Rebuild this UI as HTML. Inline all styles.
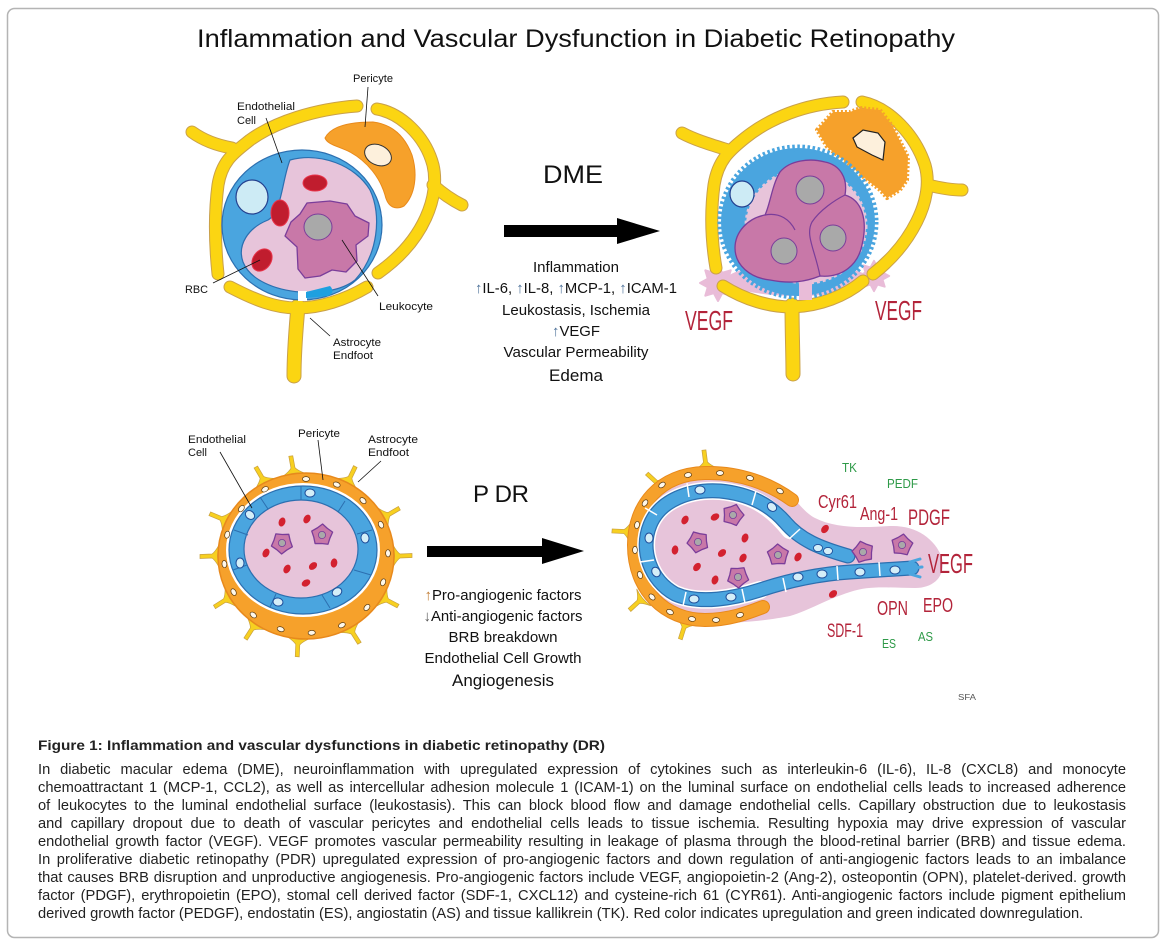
<!DOCTYPE html>
<html><head><meta charset="utf-8"><style>
html,body{margin:0;padding:0;background:#fff;}
svg{display:block;}
text{font-family:"Liberation Sans",Arial,sans-serif;}
#cap{position:absolute;left:38px;top:761px;width:1088px;font-family:"Liberation Sans",Arial,sans-serif;font-size:14.67px;line-height:18px;color:#222;}
#cap div{white-space:nowrap;text-align:justify;text-align-last:justify;height:18px;}
#cap div.last{text-align-last:left;}
</style></head><body>
<svg width="1164" height="943" viewBox="0 0 1164 943" xmlns="http://www.w3.org/2000/svg">
<defs>
<g id="sp"><path d="M-11,1 Q-4,-3 -2,-6 L-2.5,-18 L1.5,-18 L2,-6 Q4,-3 11,1 Q0,-2 -11,1 Z" fill="#F7D020" stroke="#C9A040" stroke-width="0.7"/></g>
<polygon id="star" points="18,0 10.2,4.2 12.7,12.7 4.2,10.2 0,18 -4.2,10.2 -12.7,12.7 -10.2,4.2 -18,0 -10.2,-4.2 -12.7,-12.7 -4.2,-10.2 0,-18 4.2,-10.2 12.7,-12.7 10.2,-4.2" fill="#E9BCD8" stroke="#E9BCD8" stroke-width="2" stroke-linejoin="round"/>
<g id="leu"><polygon points="11,0 6.88,5 3.4,10.46 -2.63,8.08 -8.9,6.47 -8.5,0 -8.9,-6.47 -2.63,-8.08 3.4,-10.46 6.88,-5" fill="#C878A8" stroke="#7A3D9A" stroke-width="1.3" stroke-linejoin="round"/><circle cx="0" cy="0" r="3.6" fill="#A9A9A9" stroke="#7A3D9A" stroke-width="0.8"/></g>
<ellipse id="rbc" cx="0" cy="0" rx="3.3" ry="4.6" fill="#D3212F"/>
<ellipse id="onuc" cx="0" cy="0" rx="3.6" ry="2.4" fill="#FFF8EA" stroke="#5a3a10" stroke-width="0.7"/>
<ellipse id="bnuc" cx="0" cy="0" rx="5" ry="4" fill="#D4EEF8" stroke="#1F4E9A" stroke-width="1"/>
</defs>

<!-- frame -->
<rect x="7.5" y="8.5" width="1151" height="929" rx="7" fill="#fff" stroke="#b4b4b4" stroke-width="1.5"/>

<!-- title -->
<text x="197" y="47" font-size="25" textLength="758" lengthAdjust="spacingAndGlyphs" fill="#111">Inflammation and Vascular Dysfunction in Diabetic Retinopathy</text>

<!-- ================= TOP LEFT CELL ================= -->
<g fill="none" stroke-linecap="round" stroke-linejoin="round">
 <g stroke="#C9A04A" stroke-width="13">
  <path d="M357,106 C315,109 275,122 250,140 C235,152 222,160 218,185 C214,215 215,245 218,274"/>
  <path d="M232,148 C215,145 203,140 192,132"/>
  <path d="M377,109 C400,113 425,135 433,165 C440,195 425,240 378,273"/>
  <path d="M433,185 C442,193 452,200 462,205"/>
  <path d="M230,287 C255,300 275,308 297,308 C320,308 345,300 367,287"/>
  <path d="M298,306 C296,330 294,350 294,376" stroke-width="15"/>
 </g>
 <g stroke="#FBD512" stroke-width="11">
  <path d="M357,106 C315,109 275,122 250,140 C235,152 222,160 218,185 C214,215 215,245 218,274"/>
  <path d="M232,148 C215,145 203,140 192,132"/>
  <path d="M377,109 C400,113 425,135 433,165 C440,195 425,240 378,273"/>
  <path d="M433,185 C442,193 452,200 462,205"/>
  <path d="M230,287 C255,300 275,308 297,308 C320,308 345,300 367,287"/>
  <path d="M298,306 C296,330 294,350 294,376" stroke-width="13"/>
 </g>
</g>
<!-- pericyte -->
<path d="M325,138 C330,128 345,122 373,122 C390,124 404,134 412,155 C418,175 415,195 404,206 C396,210 388,208 385,195 C380,178 368,162 350,152 C338,146 328,145 325,138 Z" fill="#F6A12B" stroke="#E88A1C" stroke-width="1"/>
<ellipse cx="378" cy="155" rx="14" ry="10" transform="rotate(25 378 155)" fill="#FDF0DC" stroke="#333" stroke-width="1"/>
<!-- endothelium -->
<ellipse cx="302" cy="225" rx="80" ry="75" fill="#4AA5DF" stroke="#2C6FB0" stroke-width="1.2"/>
<path d="M290,160 C320,152 355,165 370,190 C382,215 378,255 355,280 C340,292 315,293 300,292 C275,290 250,280 243,262 C237,245 248,228 268,220 C282,212 282,180 290,160 Z" fill="#E7C4DA" stroke="#2C6FB0" stroke-width="1.2"/>
<rect x="298" y="291" width="9" height="10" fill="#fff"/>
<path d="M306,292 L330,286 C334,290 333,294 328,296 L306,298 Z" fill="#1EA0E0"/>
<ellipse cx="252" cy="197" rx="16" ry="17" fill="#CDEBF5" stroke="#24408F" stroke-width="1.2"/>
<ellipse cx="315" cy="183" rx="12" ry="8" fill="#C01D2E" stroke="#E8334A" stroke-width="1"/>
<ellipse cx="280" cy="213" rx="9" ry="13" fill="#C01D2E" stroke="#E8334A" stroke-width="1"/>
<ellipse cx="262" cy="260" rx="9" ry="12" transform="rotate(35 262 260)" fill="#C01D2E" stroke="#E8334A" stroke-width="1"/>
<polygon points="307,203 330,201 347,204 355,216 369,223 368,236 356,245 357,261 346,272 332,270 320,276 305,278 298,269 297,247 285,236 291,222 300,214" fill="#C878A8" stroke="#7A3D9A" stroke-width="1.3" stroke-linejoin="round"/>
<ellipse cx="318" cy="227" rx="14" ry="13" fill="#A9A9A9" stroke="#7A3D9A" stroke-width="1"/>
<!-- labels -->
<g stroke="#111" stroke-width="0.8">
 <line x1="368" y1="87" x2="365" y2="127"/>
 <line x1="266" y1="118" x2="282" y2="163"/>
 <line x1="213" y1="283" x2="260" y2="260"/>
 <line x1="378" y1="296" x2="342" y2="240"/>
 <line x1="330" y1="336" x2="310" y2="318"/>
</g>
<g font-size="11" fill="#111">
 <text x="353" y="82" textLength="40" lengthAdjust="spacingAndGlyphs">Pericyte</text>
 <text x="237" y="110" textLength="58" lengthAdjust="spacingAndGlyphs">Endothelial</text>
 <text x="237" y="124">Cell</text>
 <text x="185" y="293" textLength="23" lengthAdjust="spacingAndGlyphs">RBC</text>
 <text x="379" y="310" textLength="54" lengthAdjust="spacingAndGlyphs">Leukocyte</text>
 <text x="333" y="346" textLength="48" lengthAdjust="spacingAndGlyphs">Astrocyte</text>
 <text x="333" y="359" textLength="40" lengthAdjust="spacingAndGlyphs">Endfoot</text>
</g>

<!-- ================= DME MIDDLE ================= -->
<text x="543" y="183" font-size="25" textLength="60" lengthAdjust="spacingAndGlyphs" fill="#111">DME</text>
<polygon points="504,225 617,225 617,218 660,231 617,244 617,237 504,237" fill="#000"/>
<g font-size="15" fill="#111" text-anchor="middle">
 <text x="576" y="272" textLength="86" lengthAdjust="spacingAndGlyphs">Inflammation</text>
 <text x="576" y="293" textLength="202" lengthAdjust="spacingAndGlyphs"><tspan fill="#4A6F98">↑</tspan>IL-6, <tspan fill="#4A6F98">↑</tspan>IL-8, <tspan fill="#4A6F98">↑</tspan>MCP-1, <tspan fill="#4A6F98">↑</tspan>ICAM-1</text>
 <text x="576" y="315" textLength="148" lengthAdjust="spacingAndGlyphs">Leukostasis, Ischemia</text>
 <text x="576" y="336" textLength="48" lengthAdjust="spacingAndGlyphs"><tspan fill="#4A6F98">↑</tspan>VEGF</text>
 <text x="576" y="357" textLength="145" lengthAdjust="spacingAndGlyphs">Vascular Permeability</text>
 <text x="576" y="381" font-size="17" textLength="54" lengthAdjust="spacingAndGlyphs">Edema</text>
</g>

<!-- ================= TOP RIGHT CELL ================= -->
<ellipse cx="798" cy="280" rx="72" ry="16" fill="#E9BCD8"/>
<use href="#star" transform="translate(718,283)"/>
<use href="#star" transform="translate(874,276) scale(0.85)"/>
<g fill="none" stroke-linecap="round" stroke-linejoin="round">
 <g stroke="#C9A04A" stroke-width="13">
  <path d="M843,102 C805,104 770,118 745,138 C730,150 718,160 714,185 C710,215 712,245 716,268"/>
  <path d="M728,150 C712,145 695,140 682,133"/>
  <path d="M862,102 C890,108 915,135 925,165 C935,200 910,245 873,274"/>
  <path d="M928,185 C940,188 950,190 962,190"/>
  <path d="M723,286 C745,300 770,307 792,307 C820,306 845,296 863,281"/>
  <path d="M792,305 C792,330 793,355 793,374" stroke-width="15"/>
 </g>
 <g stroke="#FBD512" stroke-width="11">
  <path d="M843,102 C805,104 770,118 745,138 C730,150 718,160 714,185 C710,215 712,245 716,268"/>
  <path d="M728,150 C712,145 695,140 682,133"/>
  <path d="M862,102 C890,108 915,135 925,165 C935,200 910,245 873,274"/>
  <path d="M928,185 C940,188 950,190 962,190"/>
  <path d="M723,286 C745,300 770,307 792,307 C820,306 845,296 863,281"/>
  <path d="M792,305 C792,330 793,355 793,374" stroke-width="13"/>
 </g>
</g>
<!-- spiky pericyte -->
<polygon points="817,130 833,112 850,112 860,108 880,110 893,127 908,157 907,180 900,190 887,198 880,190 867,180 847,163 827,147" fill="#F6A12B" stroke="#F6A12B" stroke-width="4" stroke-dasharray="2 2" stroke-linejoin="round"/>
<polygon points="853,138 863,130 878,133 885,142 883,160 872,155 857,147" fill="#FDF0DC" stroke="#222" stroke-width="1.2"/>
<!-- spiky endothelium -->
<ellipse cx="798" cy="222" rx="77" ry="74" fill="#4AA5DF" stroke="#4AA5DF" stroke-width="7" stroke-dasharray="2.5 2.5"/>
<ellipse cx="806" cy="226" rx="60" ry="57" fill="#E7C4DA" stroke="#E7C4DA" stroke-width="3" stroke-dasharray="3 3"/>
<rect x="799" y="276" width="13" height="24" fill="#E9BCD8"/>
<ellipse cx="742" cy="194" rx="12" ry="13" fill="#CDEBF5" stroke="#24408F" stroke-width="1.2"/>
<!-- leukocytes -->
<path d="M780,172 C790,160 810,158 825,162 C840,165 848,178 845,195 C862,200 868,220 862,245 C858,265 842,278 820,276 C805,282 790,284 770,280 C750,278 735,265 735,248 C735,232 748,218 765,215 C770,205 772,185 780,172 Z" fill="#C878A8" stroke="#7A3D9A" stroke-width="1.3"/>
<path d="M765,215 C780,212 790,220 795,230 M845,195 C835,200 820,210 812,222 C805,235 815,250 820,276" fill="none" stroke="#7A3D9A" stroke-width="1.2"/>
<circle cx="810" cy="190" r="14" fill="#A9A9A9" stroke="#7A3D9A" stroke-width="1"/>
<circle cx="833" cy="238" r="13" fill="#A9A9A9" stroke="#7A3D9A" stroke-width="1"/>
<circle cx="784" cy="251" r="13" fill="#A9A9A9" stroke="#7A3D9A" stroke-width="1"/>
<g fill="#B3243A">
 <text x="685" y="330" font-size="28" textLength="48" lengthAdjust="spacingAndGlyphs">VEGF</text>
 <text x="875" y="320" font-size="28" textLength="47" lengthAdjust="spacingAndGlyphs">VEGF</text>
</g>

<!-- ================= BOTTOM LEFT CELL ================= -->
<g>
 <use href="#sp" transform="translate(264.7,482.7) rotate(-28)"/>
 <use href="#sp" transform="translate(293.8,473.8) rotate(-8)"/>
 <use href="#sp" transform="translate(347.3,482.7) rotate(28)"/>
 <use href="#sp" transform="translate(383.7,517.1) rotate(62)"/>
 <use href="#sp" transform="translate(394,556) rotate(90)"/>
 <use href="#sp" transform="translate(382.2,597.5) rotate(120)"/>
 <use href="#sp" transform="translate(350,627.9) rotate(150)"/>
 <use href="#sp" transform="translate(298.3,638.7) rotate(185)"/>
 <use href="#sp" transform="translate(255.5,624) rotate(215)"/>
 <use href="#sp" transform="translate(229.8,597.5) rotate(240)"/>
 <use href="#sp" transform="translate(218,556) rotate(270)"/>
 <use href="#sp" transform="translate(226.3,520.9) rotate(295)"/>
</g>
<ellipse cx="306" cy="556" rx="88" ry="83" fill="#F6A12B" stroke="#E8891C" stroke-width="1.5"/>
<ellipse cx="303" cy="550" rx="77" ry="67" fill="#fff"/>
<ellipse cx="303" cy="550" rx="74" ry="64" fill="#4AA5DF" stroke="#2C6FB0" stroke-width="1.2"/>
<ellipse cx="301" cy="549" rx="57" ry="49" fill="#E7C4DA" stroke="#2C6FB0" stroke-width="1.2"/>
<g stroke="#2C6FB0" stroke-width="1">
 <line x1="301" y1="486" x2="301" y2="500"/>
 <line x1="345" y1="501" x2="338" y2="512"/>
 <line x1="372" y1="530" x2="357" y2="534"/>
 <line x1="371" y1="575" x2="354" y2="570"/>
 <line x1="330" y1="608" x2="322" y2="595"/>
 <line x1="270" y1="607" x2="276" y2="594"/>
 <line x1="233" y1="570" x2="247" y2="565"/>
 <line x1="234" y1="530" x2="248" y2="535"/>
 <line x1="260" y1="497" x2="268" y2="509"/>
</g>
<g>
 <use href="#onuc" transform="translate(306,479) rotate(0)"/>
 <use href="#onuc" transform="translate(336.7,484.6) rotate(22)"/>
 <use href="#onuc" transform="translate(363,500.6) rotate(44)"/>
 <use href="#onuc" transform="translate(381,524.7) rotate(66)"/>
 <use href="#onuc" transform="translate(388,553.3) rotate(88)"/>
 <use href="#onuc" transform="translate(383.1,582.3) rotate(110)"/>
 <use href="#onuc" transform="translate(366.9,607.5) rotate(132)"/>
 <use href="#onuc" transform="translate(341.9,625.2) rotate(154)"/>
 <use href="#onuc" transform="translate(311.7,632.8) rotate(176)"/>
 <use href="#onuc" transform="translate(280.7,629.2) rotate(198)"/>
 <use href="#onuc" transform="translate(253.3,615) rotate(220)"/>
 <use href="#onuc" transform="translate(233.6,592.1) rotate(242)"/>
 <use href="#onuc" transform="translate(224.4,564.1) rotate(264)"/>
 <use href="#onuc" transform="translate(227.2,534.7) rotate(286)"/>
 <use href="#onuc" transform="translate(241.4,508.6) rotate(308)"/>
 <use href="#onuc" transform="translate(265,489.3) rotate(330)"/>
</g>
<g>
 <use href="#bnuc" transform="translate(310,493)"/>
 <use href="#bnuc" transform="translate(250,515) rotate(40)"/>
 <use href="#bnuc" transform="translate(365,538) rotate(80)"/>
 <use href="#bnuc" transform="translate(240,563) rotate(90)"/>
 <use href="#bnuc" transform="translate(337,592) rotate(-30)"/>
 <use href="#bnuc" transform="translate(278,602) rotate(10)"/>
</g>
<use href="#leu" transform="translate(282,543) rotate(20)"/>
<use href="#leu" transform="translate(322,535) rotate(-15)"/>
<g>
 <use href="#rbc" transform="translate(282,522) rotate(20)"/>
 <use href="#rbc" transform="translate(307,519) rotate(30)"/>
 <use href="#rbc" transform="translate(266,553) rotate(25)"/>
 <use href="#rbc" transform="translate(287,569) rotate(30)"/>
 <use href="#rbc" transform="translate(313,566) rotate(50)"/>
 <use href="#rbc" transform="translate(334,563) rotate(10)"/>
 <use href="#rbc" transform="translate(306,583) rotate(60)"/>
</g>
<g stroke="#111" stroke-width="0.8">
 <line x1="220" y1="452" x2="252" y2="508"/>
 <line x1="318" y1="440" x2="323" y2="480"/>
 <line x1="381" y1="461" x2="358" y2="482"/>
</g>
<g font-size="11" fill="#111">
 <text x="188" y="443" textLength="58" lengthAdjust="spacingAndGlyphs">Endothelial</text>
 <text x="188" y="456">Cell</text>
 <text x="298" y="437" textLength="42" lengthAdjust="spacingAndGlyphs">Pericyte</text>
 <text x="368" y="443" textLength="50" lengthAdjust="spacingAndGlyphs">Astrocyte</text>
 <text x="368" y="456" textLength="41" lengthAdjust="spacingAndGlyphs">Endfoot</text>
</g>

<!-- ================= PDR MIDDLE ================= -->
<text x="473" y="502" font-size="24" textLength="56" lengthAdjust="spacing" fill="#111">P DR</text>
<polygon points="427,546 542,546 542,538 584,551 542,564 542,557 427,557" fill="#000"/>
<g font-size="15" fill="#111" text-anchor="middle">
 <text x="503" y="600" textLength="157" lengthAdjust="spacingAndGlyphs"><tspan fill="#C07A30">↑</tspan>Pro-angiogenic factors</text>
 <text x="503" y="621" textLength="159" lengthAdjust="spacingAndGlyphs"><tspan fill="#555">↓</tspan>Anti-angiogenic factors</text>
 <text x="503" y="642" textLength="109" lengthAdjust="spacingAndGlyphs">BRB breakdown</text>
 <text x="503" y="663" textLength="157" lengthAdjust="spacingAndGlyphs">Endothelial Cell Growth</text>
 <text x="503" y="686" font-size="17" textLength="102" lengthAdjust="spacingAndGlyphs">Angiogenesis</text>
</g>

<!-- ================= BOTTOM RIGHT CELL ================= -->
<path d="M700,476 C740,474 765,480 780,487 C795,495 800,510 815,518 C835,528 860,528 890,526 C915,525 935,538 942,558 C946,575 935,588 915,588 C890,588 870,585 850,592 C825,600 810,610 790,616 C770,620 740,624 700,623 C660,620 634,590 634,548 C634,505 660,478 700,476 Z" fill="#E7C4DA"/>
<g>
 <use href="#sp" transform="translate(706,468) rotate(-5)"/>
 <use href="#sp" transform="translate(660,486) rotate(-45)"/>
 <use href="#sp" transform="translate(630,532) rotate(-85)"/>
 <use href="#sp" transform="translate(643,598) rotate(-130)"/>
 <use href="#sp" transform="translate(686,622) rotate(200)"/>
</g>
<g fill="none" stroke-linecap="round" stroke-linejoin="round">
 <path d="M792,500 C770,484 740,472 705,473 C660,474 634,505 634,545 C634,590 665,620 705,620 C730,620 750,612 763,607" stroke="#E8891C" stroke-width="14"/>
 <path d="M792,500 C770,484 740,472 705,473 C660,474 634,505 634,545 C634,590 665,620 705,620 C730,620 750,612 763,607" stroke="#F6A12B" stroke-width="12"/>
 <path d="M790,530 C770,505 750,494 720,491 C690,489 660,500 650,525 C640,550 650,580 675,594 C700,605 735,598 760,590" stroke="#fff" stroke-width="18"/>
 <path d="M848,556 C820,548 800,540 785,522 C770,505 750,494 720,491 C690,489 660,500 650,525 C640,550 650,580 675,594 C700,605 735,598 760,590 C790,580 820,574 850,572 L912,568" stroke="#2C6FB0" stroke-width="15"/>
 <path d="M848,556 C820,548 800,540 785,522 C770,505 750,494 720,491 C690,489 660,500 650,525 C640,550 650,580 675,594 C700,605 735,598 760,590 C790,580 820,574 850,572 L912,568" stroke="#4AA5DF" stroke-width="12.5"/>
 <path d="M910,562 L920,559 M912,568 L922,567 M910,574 L920,577" stroke="#4AA5DF" stroke-width="3"/>
</g>
<g stroke="#fff" stroke-width="1.5">
 <line x1="756" y1="491" x2="752" y2="505"/>
 <line x1="687" y1="483" x2="689" y2="497"/>
 <line x1="645" y1="508" x2="657" y2="515"/>
 <line x1="640" y1="562" x2="654" y2="560"/>
 <line x1="686" y1="592" x2="683" y2="606"/>
 <line x1="742" y1="589" x2="745" y2="603"/>
 <line x1="800" y1="529" x2="789" y2="539"/>
 <line x1="783" y1="578" x2="786" y2="592"/>
 <line x1="837" y1="566" x2="838" y2="580"/>
 <line x1="879" y1="562" x2="880" y2="576"/>
</g>
<g>
 <use href="#onuc" transform="translate(780,491) rotate(30)"/>
 <use href="#onuc" transform="translate(750,478) rotate(15)"/>
 <use href="#onuc" transform="translate(720,473)"/>
 <use href="#onuc" transform="translate(688,475) rotate(-10)"/>
 <use href="#onuc" transform="translate(662,485) rotate(-35)"/>
 <use href="#onuc" transform="translate(645,503) rotate(-55)"/>
 <use href="#onuc" transform="translate(637,525) rotate(-80)"/>
 <use href="#onuc" transform="translate(635,550) rotate(90)"/>
 <use href="#onuc" transform="translate(640,575) rotate(70)"/>
 <use href="#onuc" transform="translate(652,597) rotate(45)"/>
 <use href="#onuc" transform="translate(670,612) rotate(25)"/>
 <use href="#onuc" transform="translate(692,619) rotate(10)"/>
 <use href="#onuc" transform="translate(716,620)"/>
 <use href="#onuc" transform="translate(740,615) rotate(-15)"/>
</g>
<g>
 <use href="#bnuc" transform="translate(700,490)"/>
 <use href="#bnuc" transform="translate(772,507) rotate(40)"/>
 <use href="#bnuc" transform="translate(818,548) scale(0.9)"/>
 <use href="#bnuc" transform="translate(828,551) scale(0.9)"/>
 <use href="#bnuc" transform="translate(649,538) rotate(90)"/>
 <use href="#bnuc" transform="translate(656,572) rotate(60)"/>
 <use href="#bnuc" transform="translate(694,599)"/>
 <use href="#bnuc" transform="translate(731,597)"/>
 <use href="#bnuc" transform="translate(798,577)"/>
 <use href="#bnuc" transform="translate(822,574)"/>
 <use href="#bnuc" transform="translate(860,572)"/>
 <use href="#bnuc" transform="translate(895,570)"/>
</g>
<g>
 <use href="#leu" transform="translate(733,515)"/>
 <use href="#leu" transform="translate(698,542) rotate(30)"/>
 <use href="#leu" transform="translate(778,555) rotate(-20)"/>
 <use href="#leu" transform="translate(738,577) rotate(15)"/>
 <use href="#leu" transform="translate(863,552) rotate(40)"/>
 <use href="#leu" transform="translate(902,545) rotate(-10)"/>
</g>
<g>
 <use href="#rbc" transform="translate(685,520) rotate(30)"/>
 <use href="#rbc" transform="translate(715,517) rotate(60)"/>
 <use href="#rbc" transform="translate(745,538) rotate(20)"/>
 <use href="#rbc" transform="translate(675,550) rotate(10)"/>
 <use href="#rbc" transform="translate(722,553) rotate(50)"/>
 <use href="#rbc" transform="translate(743,558) rotate(30)"/>
 <use href="#rbc" transform="translate(697,567) rotate(40)"/>
 <use href="#rbc" transform="translate(715,580) rotate(20)"/>
 <use href="#rbc" transform="translate(798,557) rotate(30)"/>
 <use href="#rbc" transform="translate(825,529) rotate(40)"/>
 <use href="#rbc" transform="translate(833,594) rotate(50)"/>
</g>
<g fill="#2E9A48">
 <text x="842" y="472" font-size="13" textLength="15" lengthAdjust="spacingAndGlyphs">TK</text>
 <text x="887" y="488" font-size="13" textLength="31" lengthAdjust="spacingAndGlyphs">PEDF</text>
 <text x="882" y="648" font-size="13" textLength="14" lengthAdjust="spacingAndGlyphs">ES</text>
 <text x="918" y="641" font-size="13" textLength="15" lengthAdjust="spacingAndGlyphs">AS</text>
</g>
<g fill="#B3243A">
 <text x="818" y="508" font-size="18" textLength="39" lengthAdjust="spacingAndGlyphs">Cyr61</text>
 <text x="860" y="520" font-size="18" textLength="38" lengthAdjust="spacingAndGlyphs">Ang-1</text>
 <text x="908" y="525" font-size="22" textLength="42" lengthAdjust="spacingAndGlyphs">PDGF</text>
 <text x="928" y="573" font-size="28" textLength="45" lengthAdjust="spacingAndGlyphs">VEGF</text>
 <text x="877" y="615" font-size="20" textLength="31" lengthAdjust="spacingAndGlyphs">OPN</text>
 <text x="923" y="612" font-size="20" textLength="30" lengthAdjust="spacingAndGlyphs">EPO</text>
 <text x="827" y="637" font-size="19" textLength="36" lengthAdjust="spacingAndGlyphs">SDF-1</text>
</g>
<text x="958" y="700" font-size="8" fill="#555" textLength="18" lengthAdjust="spacingAndGlyphs">SFA</text>

<!-- caption title -->
<text x="38" y="750" font-size="14" font-weight="bold" fill="#222" textLength="567" lengthAdjust="spacingAndGlyphs">Figure 1: Inflammation and vascular dysfunctions in diabetic retinopathy (DR)</text>
</svg>
<div id="cap">
<div>In diabetic macular edema (DME), neuroinflammation with upregulated expression of cytokines such as interleukin-6 (IL-6), IL-8 (CXCL8) and monocyte</div>
<div>chemoattractant 1 (MCP-1, CCL2), as well as intercellular adhesion molecule 1 (ICAM-1) on the luminal surface on endothelial cells leads to increased adherence</div>
<div>of leukocytes to the luminal endothelial surface (leukostasis). This can block blood flow and damage endothelial cells. Capillary obstruction due to leukostasis</div>
<div>and capillary dropout due to death of vascular pericytes and endothelial cells leads to tissue ischemia. Resulting hypoxia may drive expression of vascular</div>
<div>endothelial growth factor (VEGF). VEGF promotes vascular permeability resulting in leakage of plasma through the blood-retinal barrier (BRB) and tissue edema.</div>
<div>In proliferative diabetic retinopathy (PDR) upregulated expression of pro-angiogenic factors and down regulation of anti-angiogenic factors leads to an imbalance</div>
<div>that causes BRB disruption and unproductive angiogenesis. Pro-angiogenic factors include VEGF, angiopoietin-2 (Ang-2), osteopontin (OPN), platelet-derived. growth</div>
<div>factor (PDGF), erythropoietin (EPO), stomal cell derived factor (SDF-1, CXCL12) and cysteine-rich 61 (CYR61). Anti-angiogenic factors include pigment epithelium</div>
<div class="last">derived growth factor (PEDGF), endostatin (ES), angiostatin (AS) and tissue kallikrein (TK). Red color indicates upregulation and green indicated downregulation.</div>
</div>
</body></html>
